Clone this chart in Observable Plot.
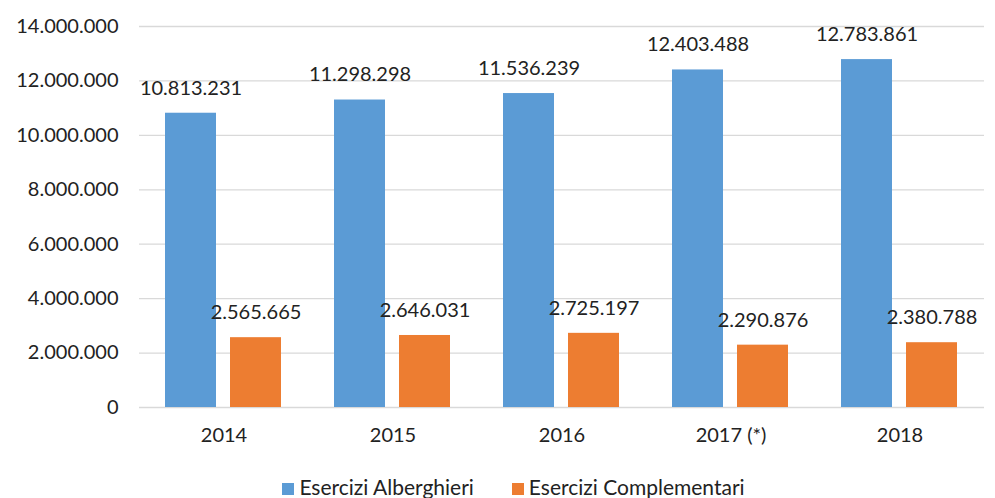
<!DOCTYPE html>
<html><head><meta charset="utf-8">
<script src="https://cdn.jsdelivr.net/npm/d3@7"></script>
<script src="https://cdn.jsdelivr.net/npm/@observablehq/plot@0.6"></script>
<style>
body{margin:0;background:#fff;font-family:Lato,"Open Sans",sans-serif;}
#legend{display:flex;justify-content:center;gap:38px;font-size:21px;color:#222;margin-top:15px;margin-left:32px;line-height:24px}
#legend span.sw{display:inline-block;width:12px;height:12px;margin-right:5px;vertical-align:0px}
</style></head>
<body>
<div id="chart"></div>
<div id="legend"></div>
<script>
const years = ["2014","2015","2016","2017 (*)","2018"];
const series = ["Esercizi Alberghieri","Esercizi Complementari"];
const alberghieri = [10813231, 11298298, 11536239, 12403488, 12783861];
const complementari = [2565665, 2646031, 2725197, 2290876, 2380788];
const colors = ["#5B9BD5","#ED7D31"];
const yTicks = [0,2000000,4000000,6000000,8000000,10000000,12000000,14000000];

const data = [];
years.forEach((y,i)=>{
  data.push({year:y, series:series[0], value:alberghieri[i]});
  data.push({year:y, series:series[1], value:complementari[i]});
});
const fmt = d => d3.format(",")(d).replace(/,/g,".");

const chart = Plot.plot({
  width: 995, height: 460,
  marginLeft: 137, marginRight: 10, marginTop: 26, marginBottom: 53,
  style:{fontFamily:"Lato, 'Open Sans', sans-serif", fontSize:"20px", color:"#222"},
  fx:{domain:years, padding:0, label:null},
  x:{domain:series, paddingInner:0.212, paddingOuter:0.39, axis:null},
  y:{domain:[0,14000000], ticks:yTicks, tickFormat:fmt, label:null},
  color:{domain:series, range:colors},
  marks:[
    Plot.gridY(yTicks,{stroke:"#D9D9D9", strokeOpacity:1, strokeWidth:1.3}),
    Plot.axisY(yTicks,{tickSize:0, tickPadding:21, tickFormat:fmt, fontSize:20, label:null}),
    Plot.axisFx({anchor:"bottom", tickSize:0, tickPadding:20, fontSize:20, label:null}),
    Plot.barY(data,{fx:"year", x:"series", y:"value", fill:"series"}),
    Plot.text(data,{fx:"year", x:"series", y:"value", text:d=>fmt(d.value), dy:-25, fontSize:20, fill:"#222"})
  ]
});
document.getElementById("chart").appendChild(chart);
const lg = document.getElementById("legend");
series.forEach((s,i)=>{
  const d = document.createElement("div");
  d.innerHTML = `<span class="sw" style="background:${colors[i]}"></span>${s}`;
  lg.appendChild(d);
});
</script>
</body></html>
